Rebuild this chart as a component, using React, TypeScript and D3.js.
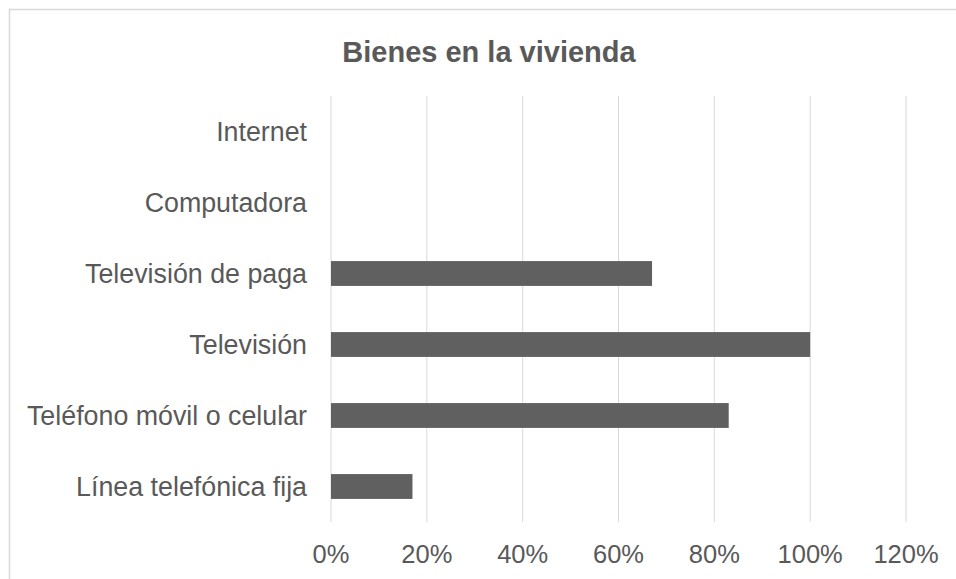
import React, { useEffect } from 'react';
import * as d3 from 'd3';

const categories = [
  'Internet',
  'Computadora',
  'Televisión de paga',
  'Televisión',
  'Teléfono móvil o celular',
  'Línea telefónica fija',
];
const values = [0, 0, 0.67, 1.0, 0.83, 0.17];
const ticks = [0, 0.2, 0.4, 0.6, 0.8, 1.0, 1.2];

const title = 'Bienes en la vivienda';

const BarChart = () => {
  const width = 956;
  const height = 579;
  const margin = { top: 96, right: 50, bottom: 57, left: 331 };

  function drawChart() {
    // Remove the old svg
    d3.select('#bar-container').select('svg').remove();

    const svg = d3
      .select('#bar-container')
      .append('svg')
      .attr('width', width)
      .attr('height', height)
      .style('display', 'block')
      .style('font-family', 'Arial, "Liberation Sans", sans-serif');

    svg.append('rect').attr('width', width).attr('height', height).attr('fill', '#ffffff');

    // chart frame (cut by the image edge)
    svg
      .append('rect')
      .attr('x', 9.5)
      .attr('y', 9.5)
      .attr('width', width + 20)
      .attr('height', height + 20)
      .attr('fill', 'none')
      .attr('stroke', '#d9d9d9')
      .attr('stroke-width', 1.5);

    const x = d3
      .scaleLinear()
      .domain([0, 1.2])
      .range([margin.left, 906]);

    const y = d3
      .scaleBand()
      .domain(categories)
      .range([margin.top, height - margin.bottom])
      .paddingInner(0.65)
      .paddingOuter(0.325);

    // Gridlines
    svg
      .append('g')
      .selectAll('line')
      .data(ticks)
      .enter()
      .append('line')
      .attr('x1', (d) => x(d))
      .attr('x2', (d) => x(d))
      .attr('y1', margin.top)
      .attr('y2', height - margin.bottom)
      .attr('stroke', '#d9d9d9')
      .attr('stroke-width', 1);

    // Tick labels
    svg
      .append('g')
      .selectAll('text')
      .data(ticks)
      .enter()
      .append('text')
      .attr('x', (d) => x(d))
      .attr('y', 563)
      .attr('text-anchor', 'middle')
      .style('font-size', '25.5px')
      .style('fill', '#595959')
      .text((d) => d3.format('.0%')(d));

    // Bars
    svg
      .append('g')
      .selectAll('rect')
      .data(categories)
      .enter()
      .append('rect')
      .attr('x', x(0))
      .attr('y', (d) => y(d) as number)
      .attr('width', (_, i) => x(values[i]) - x(0))
      .attr('height', y.bandwidth())
      .attr('fill', '#606060');

    // Category labels
    svg
      .append('g')
      .selectAll('text')
      .data(categories)
      .enter()
      .append('text')
      .attr('x', margin.left - 24)
      .attr('y', (d) => (y(d) as number) + y.bandwidth() / 2)
      .attr('dy', '0.35em')
      .attr('text-anchor', 'end')
      .style('font-size', '26.8px')
      .style('fill', '#595959')
      .text((d) => d);

    // Title
    svg
      .append('text')
      .attr('x', 489)
      .attr('y', 62)
      .attr('text-anchor', 'middle')
      .style('font-size', '29px')
      .style('font-weight', 'bold')
      .style('fill', '#595959')
      .text(title);
  }

  useEffect(() => {
    drawChart();
  }, []);

  return <div id='bar-container' style={{ position: 'absolute', left: 0, top: 0 }} />;
};

export default function App() {
  return <BarChart />;
}
